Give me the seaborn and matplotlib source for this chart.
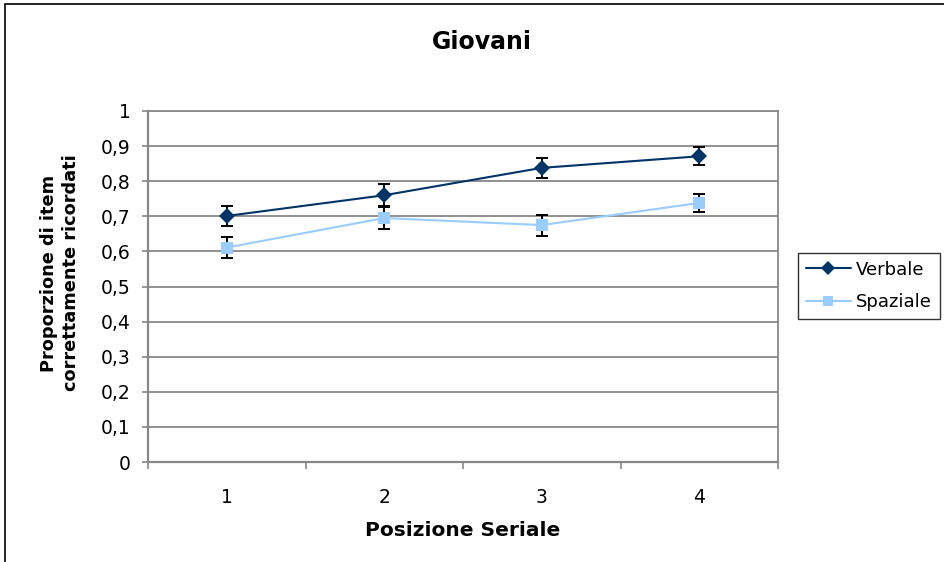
import matplotlib
matplotlib.use("Agg")
import matplotlib.pyplot as plt
import seaborn as sns
import pandas as pd
from matplotlib.patches import Rectangle

# Data
positions = [1, 2, 3, 4]
verbale = [0.701, 0.760, 0.838, 0.871]
verbale_err = [0.028, 0.032, 0.028, 0.026]
spaziale = [0.611, 0.695, 0.675, 0.738]
spaziale_err = [0.029, 0.032, 0.030, 0.025]
y_ticks = [0, 0.1, 0.2, 0.3, 0.4, 0.5, 0.6, 0.7, 0.8, 0.9, 1.0]
y_labels = ["0", "0,1", "0,2", "0,3", "0,4", "0,5", "0,6", "0,7", "0,8", "0,9", "1"]

sns.set_theme(style="white")
plt.rcParams["font.family"] = ["DejaVu Sans"]
plt.rcParams["text.color"] = "black"
plt.rcParams["axes.labelcolor"] = "black"
plt.rcParams["xtick.labelcolor"] = "black"
plt.rcParams["ytick.labelcolor"] = "black"

df = pd.DataFrame({
    "Posizione": positions * 2,
    "Valore": verbale + spaziale,
    "Serie": ["Verbale"] * 4 + ["Spaziale"] * 4,
})
palette = {"Verbale": "#003366", "Spaziale": "#99CCFF"}
GRAY = "#888888"

W, H = 944, 562
fig = plt.figure(figsize=(W / 100, H / 100), dpi=100)
ax = fig.add_axes([148 / W, 1 - 462 / H, 630 / W, 351 / H])

# Error bars underneath the series
for vals, errs in [(verbale, verbale_err), (spaziale, spaziale_err)]:
    ax.errorbar(positions, vals, yerr=errs, fmt="none", ecolor="black",
                elinewidth=1.4, capsize=4.5, capthick=1.4, zorder=2)

sns.lineplot(data=df, x="Posizione", y="Valore", hue="Serie", style="Serie",
             markers={"Verbale": "D", "Spaziale": "s"}, dashes=False,
             palette=palette, markersize=8, linewidth=1.5,
             markeredgewidth=0, ax=ax, zorder=3, legend=True)

ax.set_xlim(0.5, 4.5)
ax.set_ylim(0, 1)
ax.set_yticks(y_ticks)
ax.set_yticklabels(y_labels, fontsize=13.5)
ax.set_xticks(positions)
ax.set_xticklabels([str(p) for p in positions], fontsize=13.5)
ax.tick_params(axis="x", which="major", length=0, pad=18.5)
ax.tick_params(axis="y", length=4.5, width=1.2, color=GRAY, direction="out", pad=8, left=True)
# Category separators on the x axis
ax.set_xticks([0.5, 1.5, 2.5, 3.5, 4.5], minor=True)
ax.tick_params(axis="x", which="minor", length=5, width=1.2, color=GRAY,
               direction="out", bottom=True)

ax.grid(axis="y", color=GRAY, linewidth=1.3)
ax.set_axisbelow(True)
for s in ["top", "right"]:
    ax.spines[s].set_color(GRAY)
    ax.spines[s].set_linewidth(1.3)
for s in ["left", "bottom"]:
    ax.spines[s].set_color(GRAY)
    ax.spines[s].set_linewidth(1.6)

ax.set_xlabel("Posizione Seriale", fontsize=14.5, fontweight="bold")
ax.xaxis.label.set_va("center")
ax.xaxis.set_label_coords(0.5, -(531 - 462) / 351)
ax.set_ylabel("Proporzione di item\ncorrettamente ricordati", fontsize=12.8,
              fontweight="bold", linespacing=1.35)
ax.yaxis.label.set_va("center")
ax.yaxis.set_label_coords(-(148 - 60) / 630, (462 - 273) / 351)

fig.text(482 / W, 1 - 42 / H, "Giovani", ha="center", va="center",
         fontsize=17, fontweight="bold", color="black")

handles, labels = ax.get_legend_handles_labels()
leg = ax.legend(handles, labels, loc="upper left",
                bbox_to_anchor=(798 / W, 1 - 253 / H), bbox_transform=fig.transFigure,
                frameon=True, fancybox=False, fontsize=13, borderpad=0.42,
                handlelength=2.5, handletextpad=0.3, labelspacing=0.8,
                borderaxespad=0, markerscale=0.85)
leg.get_frame().set_edgecolor("black")
leg.get_frame().set_linewidth(1.0)
for t in leg.get_texts():
    t.set_color("black")

# Outer chart frame
fig.patches.append(Rectangle((5 / W, -0.05), 1.2, 1 - 4 / H + 0.05,
                             transform=fig.transFigure, fill=False,
                             edgecolor="black", linewidth=1.2))

fig.savefig("out.png", dpi=100)
